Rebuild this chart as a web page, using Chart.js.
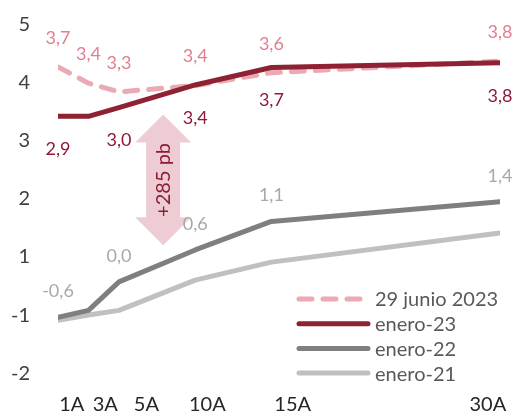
<!DOCTYPE html>
<html>
<head>
<meta charset="utf-8">
<script src="https://cdn.jsdelivr.net/npm/chart.js@4"></script>
<style>
  html, body { margin: 0; padding: 0; background: #fff; }
  #wrap { width: 515px; height: 414px; }
</style>
</head>
<body>
<div id="wrap"><canvas id="chart"></canvas></div>
<script>
// plazos (años) y curvas de tipos
const tenors = [1, 3, 5, 10, 15, 30];
const junio23 = [3.72, 3.44, 3.29, 3.40, 3.62, 3.82];
const enero23 = [2.87, 2.87, 3.02, 3.41, 3.71, 3.79];
const enero22 = [-0.59, -0.47, 0.02, 0.57, 1.06, 1.40];
const enero21 = [-0.64, -0.55, -0.47, 0.05, 0.36, 0.86];

// etiquetas de datos ('' = sin etiqueta)
const junio23Text = ['3,7', '3,4', '3,3', '3,4', '3,6', '3,8'];
const enero23Text = ['2,9', '', '3,0', '3,4', '3,7', '3,8'];
const enero22Text = ['-0,6', '', '0,0', '0,6', '1,1', '1,4'];

const xTickLabels = ['1A', '3A', '5A', '10A', '15A', '30A'];
const xTickAt = [1.9, 4.1, 6.8, 10.8, 16.4, 29.2];
const yTickLabels = ['5', '4', '3', '2', '1', '-1', '-2'];
const yTickAt = [4.5, 3.5, 2.5, 1.5, 0.5, -0.5, -1.5];

const arrowText = '+285 pb';
const arrowAt = { x: 7.9, from: 2.9, to: 0.65 };

const FONT = 'Lato, "Noto Sans", sans-serif';
const C_JUN = '#ebaab3', C_E23 = '#8e2232', C_E22 = '#7f7f7f', C_E21 = '#c0c0c0';

const pts = arr => tenors.map((t, i) => ({ x: t, y: arr[i] }));

const legendItems = [
  { text: '29 junio 2023', color: C_JUN, dash: [13, 11] },
  { text: 'enero-23', color: C_E23, dash: [] },
  { text: 'enero-22', color: C_E22, dash: [] },
  { text: 'enero-21', color: C_E21, dash: [] }
];

const extras = {
  id: 'extras',
  beforeDatasetsDraw(chart) {
    const { ctx, scales: { x, y } } = chart;
    const cx = x.getPixelForValue(arrowAt.x);
    const top = y.getPixelForValue(arrowAt.from);
    const bot = y.getPixelForValue(arrowAt.to);
    const head = 28, hw = 28, sw = 17;
    ctx.save();
    ctx.fillStyle = '#edcdd3';
    ctx.beginPath();
    ctx.moveTo(cx, top);
    ctx.lineTo(cx + hw, top + head);
    ctx.lineTo(cx + sw, top + head);
    ctx.lineTo(cx + sw, bot - head);
    ctx.lineTo(cx + hw, bot - head);
    ctx.lineTo(cx, bot);
    ctx.lineTo(cx - hw, bot - head);
    ctx.lineTo(cx - sw, bot - head);
    ctx.lineTo(cx - sw, top + head);
    ctx.lineTo(cx - hw, top + head);
    ctx.closePath();
    ctx.fill();
    ctx.translate(cx, (top + bot) / 2);
    ctx.rotate(-Math.PI / 2);
    ctx.fillStyle = '#8e1a38';
    ctx.font = '20px ' + FONT;
    ctx.textAlign = 'center';
    ctx.textBaseline = 'middle';
    ctx.fillText(arrowText, 0, 0);
    ctx.restore();
  },
  afterDatasetsDraw(chart) {
    const { ctx, scales: { x, y } } = chart;
    ctx.save();
    ctx.font = '18px ' + FONT;
    ctx.textAlign = 'center';
    ctx.textBaseline = 'middle';
    const put = (vals, texts, color, dy) => {
      ctx.fillStyle = color;
      vals.forEach((v, i) => {
        if (!texts[i]) return;
        ctx.fillText(texts[i], x.getPixelForValue(tenors[i]), y.getPixelForValue(v) + dy);
      });
    };
    put(junio23, junio23Text, '#e17f8c', -29);
    put(enero23, enero23Text, '#8e1a38', 33);
    put(enero22, enero22Text, '#a8a8a8', -26);

    // leyenda
    const lx = 297, lw = 73, ly = 299, step = 24.7;
    ctx.textAlign = 'left';
    ctx.font = '20px ' + FONT;
    legendItems.forEach((it, i) => {
      const yy = ly + i * step;
      ctx.strokeStyle = it.color;
      ctx.lineWidth = 5;
      ctx.lineCap = 'round';
      ctx.setLineDash(it.dash);
      ctx.beginPath();
      ctx.moveTo(lx + 2, yy);
      ctx.lineTo(lx + lw - 2, yy);
      ctx.stroke();
      ctx.setLineDash([]);
      ctx.fillStyle = '#595959';
      ctx.fillText(it.text, lx + lw + 5, yy + 1);
    });
    ctx.restore();
  }
};

const line = (data, color, extra) => Object.assign({
  data: pts(data),
  borderColor: color,
  borderWidth: 5,
  borderCapStyle: 'round',
  borderJoinStyle: 'round',
  pointRadius: 0,
  tension: 0,
  fill: false
}, extra || {});

new Chart(document.getElementById('chart'), {
  type: 'line',
  data: {
    datasets: [
      line(enero23, C_E23),
      line(junio23, C_JUN, { borderDash: [13, 11] }),
      line(enero22, C_E22),
      line(enero21, C_E21)
    ]
  },
  options: {
    responsive: true,
    maintainAspectRatio: false,
    animation: false,
    layout: { padding: { top: 10, right: 15, left: 0, bottom: 0 } },
    plugins: { legend: { display: false }, tooltip: { enabled: false } },
    scales: {
      x: {
        type: 'linear',
        min: 1,
        max: 30,
        grid: { display: false, drawTicks: false },
        border: { display: false },
        afterBuildTicks: s => { s.ticks = xTickAt.map(v => ({ value: v })); },
        afterFit: s => { s.height = 38; s.paddingLeft = 0; s.paddingRight = 0; },
        ticks: {
          autoSkip: false,
          maxRotation: 0,
          padding: 17,
          color: '#262626',
          font: { family: FONT, size: 20 },
          callback: (v, i) => xTickLabels[i]
        }
      },
      y: {
        min: -1.6,
        max: 4.7,
        grid: { display: false, drawTicks: false },
        border: { display: false },
        afterBuildTicks: s => { s.ticks = yTickAt.map(v => ({ value: v })); },
        afterFit: s => { s.width = 58; s.paddingTop = 0; s.paddingBottom = 0; },
        ticks: {
          padding: 28,
          labelOffset: 3,
          color: '#404040',
          font: { family: FONT, size: 20 },
          callback: (v, i) => yTickLabels[i]
        }
      }
    }
  },
  plugins: [extras]
});
</script>
</body>
</html>
